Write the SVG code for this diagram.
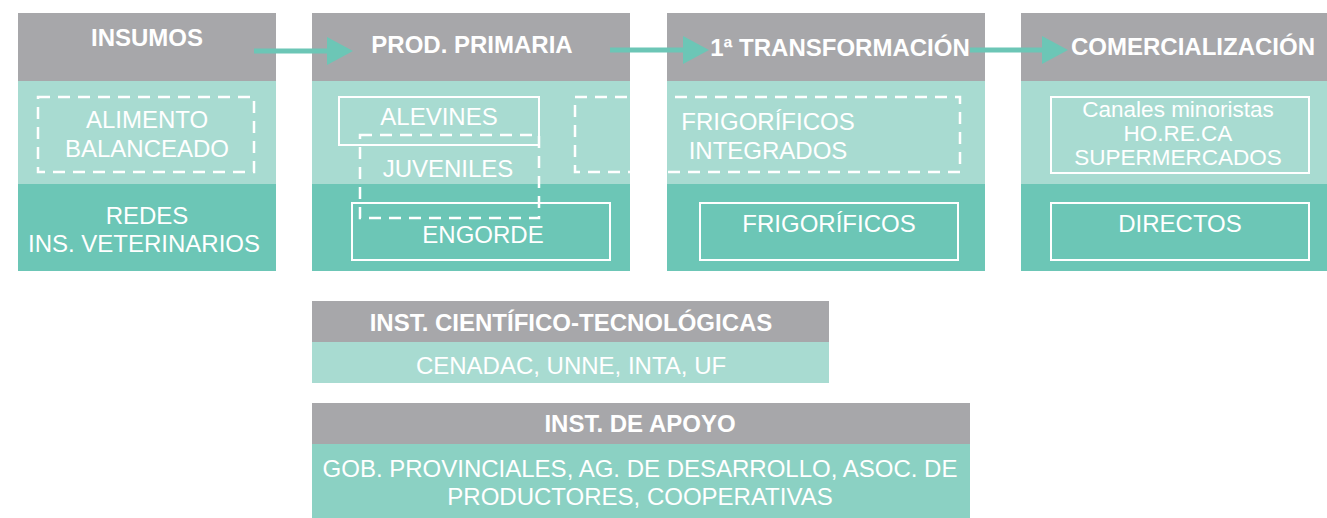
<svg xmlns="http://www.w3.org/2000/svg" width="1327" height="518" viewBox="0 0 1327 518">
<style>
.hd{fill:#a7a7aa}
.lt{fill:#a8dbd1}
.dk{fill:#6cc6b6}
.ap{fill:#8bd1c3}
.ht{font-family:"Liberation Sans",Arial,sans-serif;font-weight:bold;font-size:24px;fill:#fff;text-anchor:middle}
.bt{font-family:"Liberation Sans",Arial,sans-serif;font-size:24px;fill:#fff;text-anchor:middle}
.sm{font-size:22.5px}
.sb{fill:none;stroke:#fff;stroke-width:2}
.db{fill:none;stroke:#fff;stroke-width:2.5;stroke-dasharray:12 8}
.cn{stroke:#6cc6b6;stroke-width:5;fill:none}
</style>
<defs>
<marker id="ah" markerUnits="userSpaceOnUse" markerWidth="26" markerHeight="30" refX="0" refY="15" orient="auto">
<path d="M0,1 L26,15 L0,29 Z" fill="#6cc6b6"/>
</marker>
</defs>
<rect width="1327" height="518" fill="#fff"/>

<g id="insumos">
<rect class="hd" x="18" y="13" width="258" height="68"/>
<rect class="lt" x="18" y="81" width="258" height="103"/>
<rect class="dk" x="18" y="184" width="258" height="87"/>
<text class="ht" x="147" y="46">INSUMOS</text>
<rect class="db" x="38" y="97" width="216" height="75"/>
<text class="bt" x="147" y="128">ALIMENTO</text>
<text class="bt" x="147" y="157">BALANCEADO</text>
<text class="bt" x="147" y="224">REDES</text>
<text class="bt" x="144" y="252">INS. VETERINARIOS</text>
</g>

<g id="prod-primaria">
<rect class="hd" x="312" y="13" width="318" height="68"/>
<rect class="lt" x="312" y="81" width="318" height="103"/>
<rect class="dk" x="312" y="184" width="318" height="87"/>
<text class="ht" x="472" y="53">PROD. PRIMARIA</text>
<rect class="sb" x="339" y="97" width="200" height="48"/>
<text class="bt" x="439" y="125">ALEVINES</text>
<rect class="db" x="360" y="135" width="179" height="83"/>
<text class="bt" x="448" y="177">JUVENILES</text>
<rect class="sb" x="352" y="203" width="258" height="57"/>
<text class="bt" x="483" y="243">ENGORDE</text>
</g>

<g id="transformacion">
<rect class="hd" x="667" y="13" width="318" height="68"/>
<rect class="lt" x="667" y="81" width="318" height="103"/>
<rect class="dk" x="667" y="184" width="318" height="87"/>
<text class="ht" x="840" y="56">1ª TRANSFORMACIÓN</text>
<rect class="db" x="575" y="97" width="385" height="75"/>
<text class="bt" x="768" y="130">FRIGORÍFICOS</text>
<text class="bt" x="768" y="159">INTEGRADOS</text>
<rect class="sb" x="700" y="203" width="258" height="57"/>
<text class="bt" x="829" y="232">FRIGORÍFICOS</text>
</g>

<g id="comercializacion">
<rect class="hd" x="1021" y="13" width="306" height="68"/>
<rect class="lt" x="1021" y="81" width="306" height="103"/>
<rect class="dk" x="1021" y="184" width="306" height="87"/>
<text class="ht" x="1193" y="55">COMERCIALIZACIÓN</text>
<rect class="sb" x="1051" y="97" width="258" height="76"/>
<text class="bt sm" x="1178" y="117">Canales minoristas</text>
<text class="bt sm" x="1178" y="141">HO.RE.CA</text>
<text class="bt sm" x="1178" y="165">SUPERMERCADOS</text>
<rect class="sb" x="1051" y="203" width="258" height="57"/>
<text class="bt" x="1180" y="232">DIRECTOS</text>
</g>

<g id="inst-cientifico">
<rect class="hd" x="312" y="301" width="517" height="41"/>
<rect class="lt" x="312" y="342" width="517" height="41"/>
<text class="ht" x="571" y="331">INST. CIENTÍFICO-TECNOLÓGICAS</text>
<text class="bt" x="571" y="374">CENADAC, UNNE, INTA, UF</text>
</g>

<g id="inst-apoyo">
<rect class="hd" x="312" y="403" width="658" height="41"/>
<rect class="ap" x="312" y="444" width="658" height="74"/>
<text class="ht" x="640" y="432">INST. DE APOYO</text>
<text class="bt" x="640" y="477">GOB. PROVINCIALES, AG. DE DESARROLLO, ASOC. DE</text>
<text class="bt" x="640" y="505">PRODUCTORES, COOPERATIVAS</text>
</g>

<g id="connectors">
<line class="cn" x1="254" y1="51" x2="327" y2="51" marker-end="url(#ah)"/>
<line class="cn" x1="610" y1="50" x2="683" y2="50" marker-end="url(#ah)"/>
<line class="cn" x1="970" y1="50" x2="1042" y2="50" marker-end="url(#ah)"/>
</g>
</svg>
